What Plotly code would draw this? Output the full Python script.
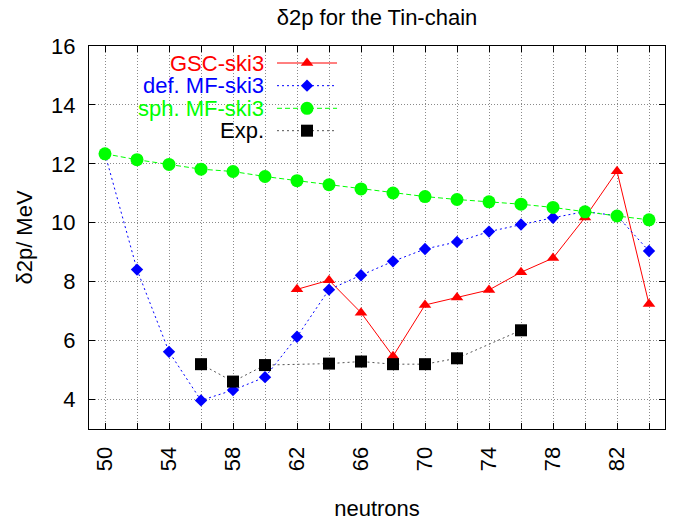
import plotly.graph_objects as go

# ---------------- data ----------------
n_all = [50, 52, 54, 56, 58, 60, 62, 64, 66, 68, 70, 72, 74, 76, 78, 80, 82, 84]

gsc_n = [62, 64, 66, 68, 70, 72, 74, 76, 78, 80, 82, 84]
gsc_v = [7.74, 8.05, 6.95, 5.47, 7.21, 7.46, 7.72, 8.32, 8.80, 10.18, 11.75, 7.24]

def_n = n_all
def_v = [12.34, 8.41, 5.62, 3.97, 4.32, 4.76, 6.13, 7.73, 8.22, 8.69, 9.11, 9.35,
         9.70, 9.94, 10.17, 10.38, 10.24, 9.04]

sph_n = n_all
sph_v = [12.34, 12.14, 11.98, 11.82, 11.74, 11.57, 11.43, 11.29, 11.15, 11.01,
         10.89, 10.79, 10.71, 10.63, 10.52, 10.37, 10.23, 10.10]

exp_n = [56, 58, 60, 64, 66, 68, 70, 72, 76]
exp_v = [5.20, 4.61, 5.17, 5.22, 5.29, 5.20, 5.20, 5.40, 6.35]

x_tick_vals = list(range(50, 85, 2))
x_tick_text = [str(v) if (v - 50) % 4 == 0 else "" for v in x_tick_vals]
y_tick_vals = [4, 6, 8, 10, 12, 14, 16]

series_names = ["GSC-ski3", "def. MF-ski3", "sph. MF-ski3", "Exp."]

# ---------------- styles ----------------
FONT = "Liberation Sans, Arial, Helvetica, sans-serif"
FS = 22
styles = [
    dict(dash="solid", symbol="triangle-up", size=11),
    dict(dash="2px,3px", symbol="diamond", size=9.5),
    dict(dash="5px,3px", symbol="circle", size=13),
    dict(dash="2px,3px", symbol="square", size=12),
]
line_colors = ["#ff0000", "#0000ff", "#00ff00", "#555555"]
marker_colors = ["#ff0000", "#0000ff", "#00ff00", "#000000"]
text_colors = ["#ff0000", "#0000ff", "#00ff00", "#000000"]

datasets = [(gsc_n, gsc_v), (def_n, def_v), (sph_n, sph_v), (exp_n, exp_v)]

fig = go.Figure()

for (xs, ys), st, lc, mc, name in zip(datasets, styles, line_colors, marker_colors, series_names):
    fig.add_trace(go.Scatter(
        x=xs, y=ys, mode="lines+markers", name=name, showlegend=False,
        line=dict(color=lc, width=1, dash=st["dash"]),
        marker=dict(color=mc, symbol=st["symbol"], size=st["size"], line=dict(width=0)),
        xaxis="x", yaxis="y",
    ))

# ---------------- gnuplot-style key (text left, sample right) ----------------
key_text_x = 0.308
key_x0, key_xm, key_x1 = 0.3264, 0.3785, 0.4306
key_rows = [0.9556, 0.8964, 0.8373, 0.7789]

for st, lc, mc, tc, name, ry in zip(styles, line_colors, marker_colors, text_colors, series_names, key_rows):
    fig.add_trace(go.Scatter(
        x=[key_x0, key_x1], y=[ry, ry], mode="lines", showlegend=False,
        line=dict(color=lc, width=1, dash=st["dash"]),
        xaxis="x2", yaxis="y2", hoverinfo="skip",
    ))
    fig.add_trace(go.Scatter(
        x=[key_xm], y=[ry], mode="markers", showlegend=False,
        marker=dict(color=mc, symbol=st["symbol"], size=st["size"], line=dict(width=0)),
        xaxis="x2", yaxis="y2", hoverinfo="skip",
    ))
    fig.add_annotation(
        x=key_text_x, y=ry, xref="paper", yref="paper", text=name,
        showarrow=False, xanchor="right", yanchor="middle",
        font=dict(family=FONT, size=FS, color=tc),
    )

# opaque key background hiding the grid
fig.add_shape(type="rect", xref="paper", yref="paper",
              x0=0.0226, x1=0.4514, y0=0.749, y1=1.0,
              fillcolor="white", line=dict(width=0), layer="between")

axis_common = dict(
    showline=True, linecolor="black", linewidth=1, mirror="ticks",
    ticks="inside", ticklen=6, tickcolor="black", tickwidth=1,
    showgrid=True, gridcolor="#8a8a8a", gridwidth=1, griddash="1px,2px",
    zeroline=False, automargin=False,
    tickfont=dict(family=FONT, size=FS, color="black"),
)

# margins compensate for the 8px default page margin around the figure
fig.update_layout(
    width=675, height=519,
    margin=dict(l=81, r=18, t=38, b=98, autoexpand=False),
    paper_bgcolor="white", plot_bgcolor="white",
    font=dict(family=FONT, size=FS, color="black"),
    title=dict(text="δ2p for the Tin-chain", x=0.5, xref="paper", xanchor="center",
               y=0.997, yref="container", yanchor="top", automargin=False,
               font=dict(family=FONT, size=FS, color="black")),
    xaxis=dict(range=[49, 85], tickmode="array", tickvals=x_tick_vals, ticktext=x_tick_text,
               tickangle=-90, ticklabelstandoff=8,
               title=dict(text="neutrons", standoff=30,
                          font=dict(family=FONT, size=FS)),
               **axis_common),
    yaxis=dict(range=[3, 16], tickmode="array", tickvals=y_tick_vals,
               ticklabelstandoff=8,
               title=dict(text="δ2p/ MeV", standoff=12,
                          font=dict(family=FONT, size=FS)),
               **axis_common),
    xaxis2=dict(range=[0, 1], overlaying="x", anchor="y2", visible=False, fixedrange=True),
    yaxis2=dict(range=[0, 1], overlaying="y", anchor="x2", visible=False, fixedrange=True),
    showlegend=False,
)

fig.write_html("out.html")
